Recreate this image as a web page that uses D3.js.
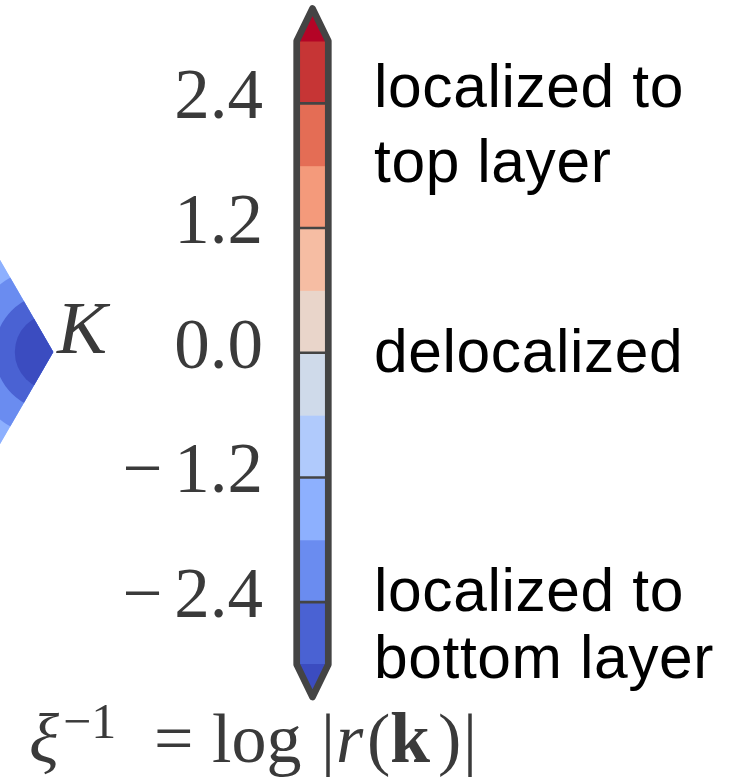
<!DOCTYPE html>
<html>
<head>
<meta charset="utf-8">
<script src="https://cdn.jsdelivr.net/npm/d3@7"></script>
<style>
  html, body { margin: 0; padding: 0; background: #fff; }
  svg { display: block; }
</style>
</head>
<body>
<svg id="chart" width="752" height="784"></svg>
<script>
// Contour levels of the inverse localization length ξ⁻¹ = log|r(k)|
const levels = [-3.0, -2.4, -1.8, -1.2, -0.6, 0.0, 0.6, 1.2, 1.8, 2.4, 3.0];
// coolwarm band colours: under-range, ten bands, over-range
const bandColors = ["#3b4cc0", "#4a62d3", "#6a8cf0", "#8db0fe", "#b0cafc", "#cfdaea",
                    "#e9d5ca", "#f6bda3", "#f49a7b", "#e46d55", "#c63535", "#b40426"];
// Labelled ticks and the contour lines marked on the colour bar
const tickValues = [-2.4, -1.2, 0.0, 1.2, 2.4];
const lineLevels = [-2.4, -1.2, 0.0, 1.2, 2.4];
// Closed contours around the K valley: level and radius |k − K| (1/a)
const ringLevels = [-1.2, -1.8, -2.4, -3.0];
const ringRadii = [1.75, 1.23, 0.84, 0.55];
// Hexagonal Brillouin zone corner K (1/a)
const kPoint = [4 * Math.PI / 3, 0];

const svg = d3.select("#chart");
svg.append("rect").attr("width", 752).attr("height", 784).attr("fill", "#fff");

// ---------- Brillouin-zone map near K ----------
const pxPerK = 70;
const kx = d3.scaleLinear().domain([kPoint[0] - 1, kPoint[0]]).range([53.3 - pxPerK, 53.3]);
const ky = d3.scaleLinear().domain([0, 1]).range([352, 352 - pxPerK]);

const hex = d3.range(6).map(i => {
  const a = i * Math.PI / 3;
  return [kx(kPoint[0] * Math.cos(a)), ky(kPoint[0] * Math.sin(a))];
});
svg.append("clipPath").attr("id", "bz")
  .append("polygon").attr("points", hex.map(p => p.join(",")).join(" "));

const bandOf = v => bandColors[d3.bisectRight(levels, v)];
const map = svg.append("g").attr("clip-path", "url(#bz)");
// region outside the outermost contour
map.append("polygon")
  .attr("points", hex.map(p => p.join(",")).join(" "))
  .attr("fill", bandOf(-0.9));
ringLevels.forEach((lv, i) => {
  map.append("circle")
    .attr("cx", kx(kPoint[0])).attr("cy", ky(kPoint[1]))
    .attr("r", kx(kPoint[0] + ringRadii[i]) - kx(kPoint[0]))
    .attr("fill", bandOf(lv - 0.3));
});

svg.append("text")
  .attr("x", 57).attr("y", 353)
  .attr("font-family", "Liberation Serif, serif")
  .attr("font-style", "italic")
  .attr("font-size", 75)
  .attr("fill", "#3a3a3a")
  .text("K");

// ---------- Colour bar ----------
const cbLeft = 296.7, cbRight = 328.3, cbMid = (cbLeft + cbRight) / 2;
const y = d3.scaleLinear().domain([-3, 3]).range([664.5, 41]);
const extLen = 0.052 * (y(-3) - y(3));

const cb = svg.append("g");
for (let i = 0; i < levels.length - 1; i++) {
  cb.append("rect")
    .attr("x", cbLeft).attr("width", cbRight - cbLeft)
    .attr("y", y(levels[i + 1])).attr("height", y(levels[i]) - y(levels[i + 1]) + 0.5)
    .attr("fill", bandColors[i + 1]);
}
cb.append("path")
  .attr("d", `M${cbLeft},${y(3) + 0.5}L${cbMid},${y(3) - extLen}L${cbRight},${y(3) + 0.5}Z`)
  .attr("fill", bandColors[bandColors.length - 1]);
cb.append("path")
  .attr("d", `M${cbLeft},${y(-3) - 0.5}L${cbMid},${y(-3) + extLen}L${cbRight},${y(-3) - 0.5}Z`)
  .attr("fill", bandColors[0]);

cb.selectAll("line.lvl").data(lineLevels).join("line")
  .attr("class", "lvl")
  .attr("x1", cbLeft).attr("x2", cbRight)
  .attr("y1", d => y(d)).attr("y2", d => y(d))
  .attr("stroke", "#444").attr("stroke-width", 2.6);

cb.append("path")
  .attr("d", `M${cbLeft},${y(-3)}L${cbLeft},${y(3)}L${cbMid},${y(3) - extLen}` +
             `L${cbRight},${y(3)}L${cbRight},${y(-3)}L${cbMid},${y(-3) + extLen}Z`)
  .attr("fill", "none")
  .attr("stroke", "#444")
  .attr("stroke-width", 6.7)
  .attr("stroke-linejoin", "round");

// tick labels: wide math minus sign, then the magnitude
const tickText = cb.selectAll("text.tick").data(tickValues).join("text")
  .attr("class", "tick")
  .attr("x", 263).attr("y", d => y(d) + 15)
  .attr("text-anchor", "end")
  .attr("font-family", "Liberation Serif, serif")
  .attr("font-size", 71)
  .attr("fill", "#3a3a3a");
tickText.filter(d => d < 0).append("tspan").text("\u2212");
tickText.append("tspan")
  .attr("dx", d => d < 0 ? 12 : 0)
  .text(d => d3.format(".1f")(Math.abs(d)));

// ---------- Side annotations ----------
const notes = [
  { lines: ["localized to", "top layer"], y0: 107, dy: 75 },
  { lines: ["delocalized"], y0: 372, dy: 0 },
  { lines: ["localized to", "bottom layer"], y0: 611, dy: 67 }
];
notes.forEach(n => {
  n.lines.forEach((t, i) => {
    svg.append("text")
      .attr("x", 374).attr("y", n.y0 + i * n.dy)
      .attr("font-family", "Liberation Sans, Arial, sans-serif")
      .attr("font-size", 60.5)
      .attr("letter-spacing", 0.6)
      .attr("fill", "#000")
      .text(t);
  });
});

// ---------- Colour-bar title ----------
const title = svg.append("g")
  .attr("font-family", "Liberation Serif, serif")
  .attr("fill", "#3a3a3a");
const base = 762;
const pieces = [
  { t: "\u03BE", x: 29, style: "italic", size: 70, dy: 0 },
  { t: "\u22121", x: 63, size: 50, dy: -24 },
  { t: "=", x: 154, size: 70, dy: 0 },
  { t: "log", x: 212, size: 70, dy: 0 },
  { t: "|", x: 321, size: 70, dy: 0 },
  { t: "r", x: 336, style: "italic", size: 70, dy: 0 },
  { t: "(", x: 367, size: 70, dy: 0 },
  { t: "k", x: 390, weight: "bold", size: 72, dy: 0 },
  { t: ")", x: 438, size: 70, dy: 0 },
  { t: "|", x: 463, size: 70, dy: 0 }
];
pieces.forEach(p => {
  title.append("text")
    .attr("x", p.x).attr("y", base + p.dy)
    .attr("font-size", p.size)
    .attr("font-style", p.style || "normal")
    .attr("font-weight", p.weight || "normal")
    .text(p.t);
});
</script>
</body>
</html>
